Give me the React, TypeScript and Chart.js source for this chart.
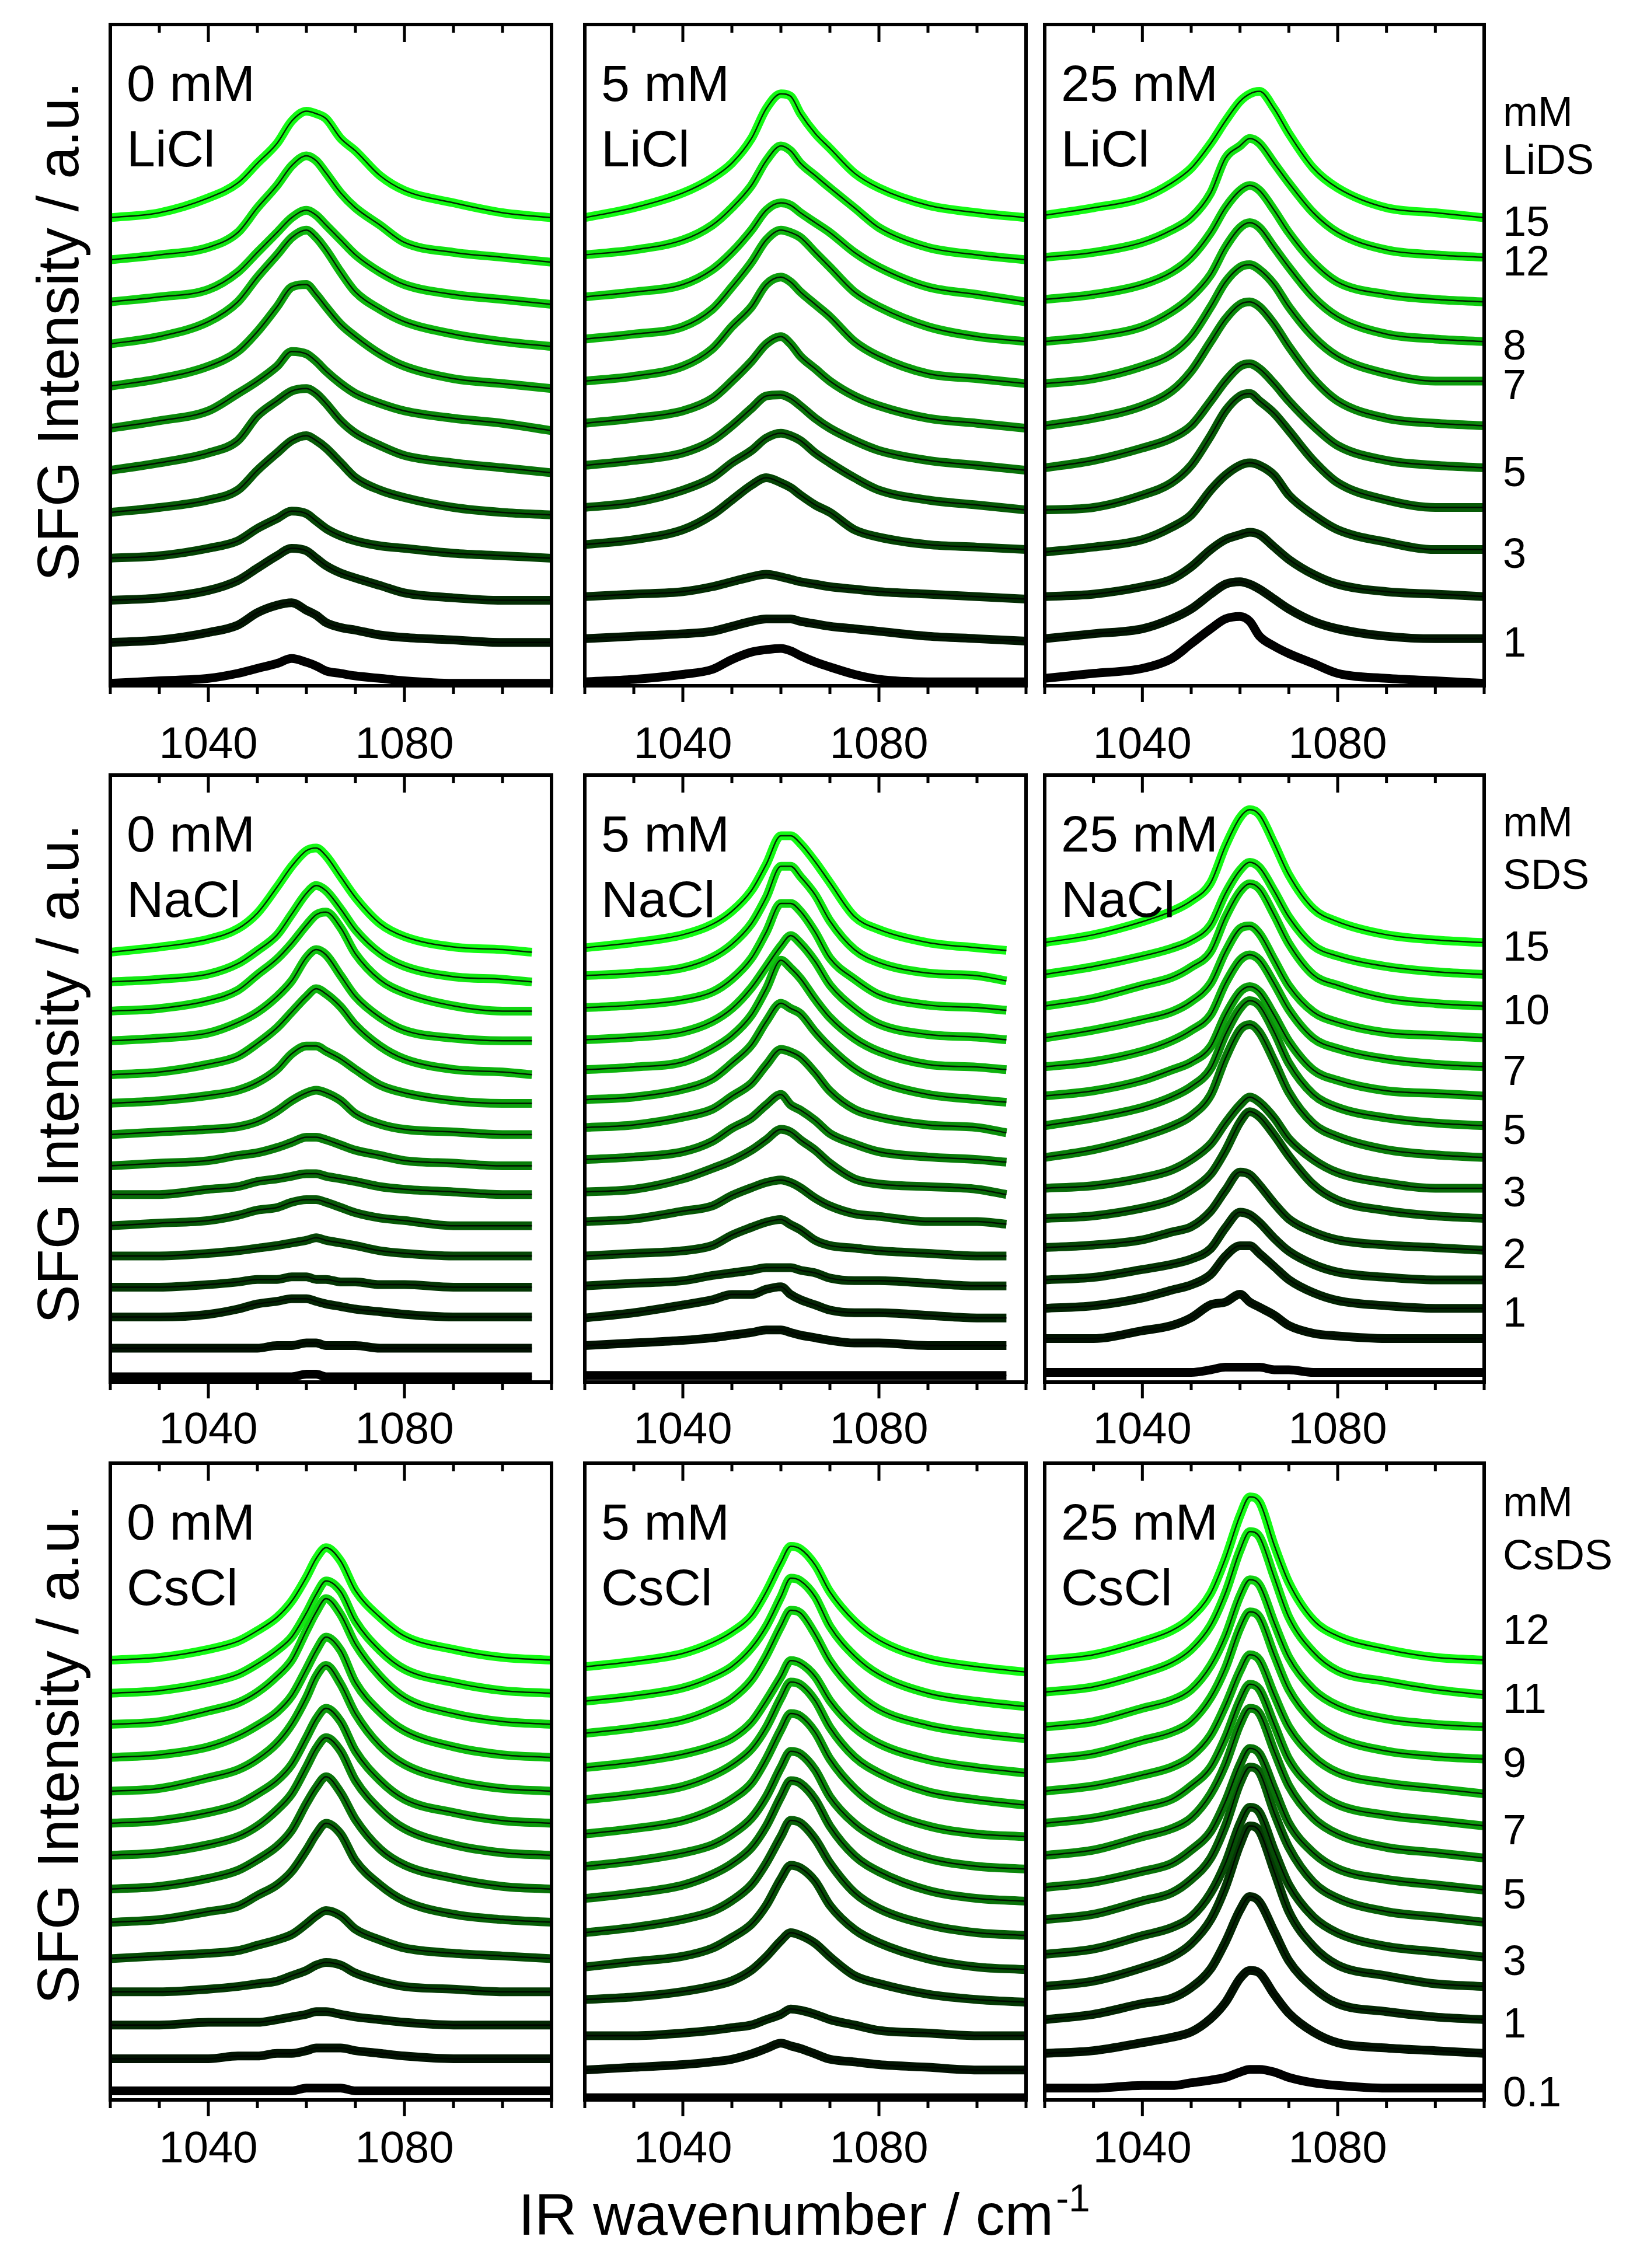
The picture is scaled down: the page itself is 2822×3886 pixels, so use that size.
import React, { useEffect, useRef } from "react";
import { Chart, registerables } from "chart.js";

Chart.register(...registerables);

// ---------------- DATA ----------------
// IR wavenumber grid (cm^-1)
const waveFull = [1020, 1030, 1040, 1046, 1050, 1054, 1057, 1060, 1062, 1064, 1067, 1070, 1075, 1080, 1090, 1100, 1110];
const waveShort = [1020, 1030, 1040, 1046, 1050, 1054, 1057, 1060, 1062, 1064, 1067, 1070, 1075, 1080, 1090, 1100, 1106];

const tickValues = [1020, 1030, 1040, 1050, 1060, 1070, 1080, 1090, 1100, 1110];
const tickLabelValues = [1040, 1080];

const saltConc = ["0 mM", "5 mM", "25 mM"];
const saltNames = ["LiCl", "NaCl", "CsCl"];
const surfactantNames = ["LiDS", "SDS", "CsDS"];

// right-hand surfactant concentration labels (bottom curve -> top curve)
const liDSLabels = ["", "1", "", "3", "", "5", "", "7", "8", "", "12", "15"];
const sdsLabels = ["", "", "1", "", "2", "", "3", "", "5", "", "7", "", "10", "", "15"];
const csDSLabels = ["0.1", "", "1", "", "3", "", "5", "", "7", "", "9", "", "11", "12"];

// y-axis ranges (a.u.)
const liYMax = [267, 267, 267];
const naYMax = [233, 233, 233];
const csYMax = [238, 238, 238];

// ---- Row 1: LiCl / LiDS ----
const liCl0Offsets = [1, 17.5, 34.5, 51.5, 70, 87, 104, 121, 138, 155, 172, 189];
const liCl0Signal = [
  [0, 1, 2, 4, 6, 8, 10, 8.5, 7, 5, 4, 3, 2, 1, 0, 0, 0],
  [0, 1, 4, 7, 12, 15, 16, 13, 11, 8, 6, 5, 3, 2, 1, 0, 0],
  [0, 1, 4, 8, 13, 18, 21, 20, 17, 14, 11, 9, 6, 3, 1, 0, 0],
  [0, 1, 4, 7, 12, 16, 19, 18, 15, 12, 9, 7, 5, 4, 2, 1, 0],
  [0, 2, 5, 9, 17, 24, 29, 31, 29, 26, 20, 14, 9, 6, 2, 0, -1],
  [0, 3, 7, 12, 22, 28, 32, 33, 31, 27, 20, 15, 10, 6, 3, 1, -1],
  [0, 3, 7, 14, 19, 25, 31, 30, 27, 23, 18, 14, 10, 7, 4, 2, -1],
  [0, 3, 8, 14, 22, 32, 40, 41, 37, 32, 25, 20, 13, 8, 3, 1, -1],
  [0, 3, 9, 17, 27, 36, 43, 46, 43, 38, 29, 21, 14, 9, 4, 1, -1],
  [0, 2, 5, 12, 20, 28, 34, 37, 35, 31, 25, 19, 12, 7, 3, 1, -1],
  [0, 2, 5, 11, 21, 30, 38, 42, 40, 35, 27, 21, 14, 7, 3, 1, -1],
  [0, 2, 8, 14, 22, 30, 39, 43, 42, 40, 32, 27, 17, 11, 6, 2, 0],
];

const liCl5Offsets = [1.6, 19, 36, 57, 72, 89, 106, 123, 140, 157, 174, 189];
const liCl5Signal = [
  [0, 1, 3, 5, 9, 12, 13, 13.5, 12.5, 10.5, 8, 6, 3, 1, 0, 0, 0],
  [0, 1, 2, 3, 5, 7, 8, 8, 8, 7, 6, 5, 4, 3, 1, 0, -1],
  [0, 1, 2, 4, 6, 8, 9, 8, 7, 6, 5, 4, 3, 2, 1, 0, -1],
  [0, 2, 6, 12, 18, 24, 27, 25, 23, 20, 16, 13, 6, 3, 0, -1, -2],
  [0, 2, 7, 12, 18, 23, 28, 30, 29, 27, 22, 18, 12, 7, 3, 1, -1],
  [0, 2, 5, 10, 16, 23, 28, 28.5, 27, 24, 19, 15, 10, 6, 2, 0, -2],
  [0, 2, 5, 10, 17, 25, 32, 35, 32, 27, 22, 17, 11, 7, 2, 0, -2],
  [0, 2, 6, 13, 22, 30, 39, 42, 40, 36, 31, 26, 16, 10, 3, 1, -1],
  [0, 2, 5, 12, 21, 31, 40, 44, 43, 41, 35, 29, 19, 13, 5, 1, -1],
  [0, 2, 5, 11, 18, 27, 35, 38, 37, 34, 30, 26, 18, 12, 4, 1, -2],
  [0, 2, 6, 12, 19, 28, 38, 44, 42, 37, 32, 27, 19, 11, 3, 0, -2],
  [0, 4, 10, 16, 22, 32, 44, 50, 49, 42, 34, 28, 18, 12, 5, 2, 0],
];

const liCl25Offsets = [3, 19, 36, 54, 71, 88, 105, 122, 139, 156, 173, 190];
const liCl25Signal = [
  [0, 2, 4, 8, 14, 20, 24, 25, 23, 17, 13, 10, 6, 2, 0, -1, -2],
  [0, 2, 4, 8, 12, 18, 22, 23, 22, 20, 16, 12, 7, 4, 1, 0, 0],
  [0, 1, 4, 7, 12, 19, 23, 25, 26, 25, 20, 15, 9, 5, 2, 1, 0],
  [0, 2, 5, 10, 15, 25, 31, 35, 36, 35, 31, 23, 15, 9, 4, 1, 1],
  [0, 1, 6, 11, 18, 30, 40, 46, 47, 44, 39, 32, 20, 11, 4, 1, 1],
  [0, 3, 8, 12, 17, 27, 35, 41, 42, 40, 34, 27, 17, 9, 3, 1, 0],
  [0, 3, 8, 14, 22, 34, 43, 49, 50, 48, 41, 32, 19, 10, 3, 1, 0],
  [0, 2, 7, 12, 19, 31, 41, 47, 48, 46, 40, 31, 19, 11, 4, 1, 1],
  [0, 2, 6, 12, 18, 27, 38, 46, 48, 46, 38, 30, 18, 10, 3, 1, 0],
  [0, 2, 6, 11, 17, 27, 37, 44, 46, 44, 36, 27, 15, 7, 2, 0, -1],
  [0, 2, 6, 11, 16, 26, 40, 45, 48, 46, 38, 30, 18, 10, 3, 1, 0],
  [0, 3, 7, 13, 19, 29, 38, 46, 49, 50, 43, 33, 19, 11, 3, 1, -1],
];

// ---- Row 2: NaCl / SDS ----
const naCl0Offsets = [2, 13, 25, 36.4, 48.4, 60, 72, 83, 95, 107, 118, 131, 142.4, 153.6, 165];
const naCl0Signal = [
  [0, 0, 0, 0, 0, 0, 0, 1, 1, 0, 0, 0, 0, 0, 0, 0, 0],
  [0, 0, 0, 0, 0, 1, 1, 2, 2, 1, 1, 1, 0, 0, 0, 0, 0],
  [0, 0, 1, 3, 5, 6, 7, 7, 6, 5, 4, 3, 2, 1, 0, 0, 0],
  [0, 0, 1, 2, 3, 3, 4, 4, 3, 3, 2, 2, 1, 1, 0, 0, 0],
  [0, 0, 1, 2, 3, 4, 5, 6, 7, 6, 5, 4, 2, 1, 0, 0, 0],
  [0, 1, 2, 4, 6, 7, 9, 10, 10, 9, 7, 5, 3, 2, 0, 0, 0],
  [0, 0, 2, 3, 5, 6, 7, 8, 8, 7, 6, 5, 3, 2, 1, 0, 0],
  [0, 1, 2, 4, 5, 7, 9, 11, 11, 10, 8, 6, 4, 2, 1, 0, 0],
  [0, 1, 2, 3, 5, 9, 13, 16, 17, 16, 13, 8, 4, 2, 1, 0, 0],
  [0, 1, 3, 5, 8, 13, 19, 22, 22, 20, 17, 13, 7, 4, 1, 0, 0],
  [0, 1, 4, 7, 12, 18, 24, 30, 33, 31, 26, 19, 11, 6, 2, 1, 0],
  [0, 1, 3, 7, 11, 17, 23, 32, 35, 33, 25, 17, 9, 4, 1, 0, 0],
  [0, 1, 4, 8, 14, 20, 26, 33, 37, 38, 32, 22, 12, 7, 2, 0, 0],
  [0, 1, 3, 7, 12, 18, 26, 34, 37, 35, 28, 20, 11, 6, 2, 1, 0],
  [0, 2, 5, 9, 15, 25, 33, 39, 40, 37, 29, 21, 11, 6, 2, 1, 0],
];

const naCl5Offsets = [2.5, 14, 24.6, 36.9, 48.4, 61.6, 73, 85.4, 97.7, 108.4, 119.9, 131.4, 143.7, 156, 166.7];
const naCl5Signal = [
  [0, 0, 0, 0, 0, 0, 0, 0, 0, 0, 0, 0, 0, 0, 0, 0, 0],
  [0, 1, 2, 3, 4, 5, 6, 6, 5, 4, 3, 2, 1, 1, 0, 0, 0],
  [0, 2, 5, 7, 9, 9, 11, 12, 9, 7, 5, 3, 2, 2, 1, 0, 0],
  [0, 1, 2, 4, 5, 6, 7, 7, 7, 6, 5, 3, 2, 2, 1, 0, 0],
  [0, 1, 2, 4, 8, 11, 13, 14, 12, 10, 6, 4, 3, 2, 1, 0, 0],
  [0, 1, 4, 6, 10, 13, 15, 16, 15, 13, 9, 6, 3, 2, 0, 0, -1],
  [0, 1, 5, 9, 12, 16, 20, 24, 23, 20, 16, 11, 5, 3, 2, 1, -1],
  [0, 1, 3, 7, 12, 16, 21, 25, 21, 19, 15, 10, 6, 3, 1, 0, -1],
  [0, 1, 4, 7, 12, 17, 24, 30, 29, 27, 21, 14, 7, 4, 1, 0, -2],
  [0, 1, 4, 8, 14, 21, 30, 37, 35, 33, 26, 20, 12, 7, 2, 0, -1],
  [0, 1, 3, 8, 13, 21, 31, 42, 39, 35, 27, 20, 12, 7, 2, 1, 0],
  [0, 1, 3, 7, 12, 20, 28, 36, 40, 37, 30, 21, 12, 6, 2, 1, 0],
  [0, 1, 3, 6, 11, 19, 29, 40, 40, 37, 29, 19, 11, 5, 1, 0, -1],
  [0, 1, 3, 7, 12, 20, 30, 42, 42, 38, 31, 21, 10, 5, 1, 0, -2],
  [0, 2, 5, 9, 14, 22, 32, 43, 43, 40, 33, 25, 12, 7, 2, 0, -1],
];

const naCl25Offsets = [3.7, 16.7, 28.3, 39.2, 51.6, 62.8, 74.4, 86.2, 98.4, 109.8, 121, 132.1, 144.3, 156.5, 168.7];
const naCl25Signal = [
  [0, 0, 0, 0, 0, 1, 2, 2, 2, 2, 1, 1, 0, 0, 0, 0, 0],
  [0, 0, 3, 5, 8, 13, 14, 17, 14, 12, 9, 5, 2, 1, 0, 0, 0],
  [0, 1, 4, 7, 9, 13, 20, 24, 24, 21, 16, 11, 6, 3, 1, 0, 0],
  [0, 1, 4, 6, 8, 12, 20, 26, 25, 22, 16, 11, 6, 3, 1, 0, 0],
  [0, 1, 3, 6, 8, 14, 22, 29, 28, 24, 17, 11, 6, 3, 1, 0, -1],
  [0, 1, 4, 7, 11, 17, 26, 37, 41, 39, 32, 24, 13, 7, 3, 1, 0],
  [0, 1, 4, 7, 11, 17, 25, 32, 35, 33, 27, 19, 11, 6, 2, 0, 0],
  [0, 3, 8, 12, 16, 24, 38, 49, 51, 48, 37, 25, 13, 8, 3, 1, 0],
  [0, 3, 7, 11, 15, 22, 35, 45, 48, 46, 36, 24, 12, 7, 3, 1, 0],
  [0, 2, 6, 10, 13, 19, 31, 40, 42, 40, 31, 21, 10, 6, 2, 1, 0],
  [0, 2, 6, 10, 14, 20, 32, 41, 43, 41, 32, 22, 11, 7, 3, 1, 0],
  [0, 3, 7, 10, 14, 21, 33, 42, 43, 40, 30, 20, 10, 6, 2, 1, 0],
  [0, 3, 8, 11, 15, 21, 34, 44, 47, 45, 35, 24, 12, 8, 3, 1, 0],
  [0, 3, 7, 10, 13, 19, 31, 40, 43, 41, 32, 22, 11, 7, 3, 1, 0],
  [0, 3, 8, 12, 16, 23, 37, 48, 51, 49, 38, 26, 13, 8, 3, 1, 0],
];

// ---- Row 3: CsCl / CsDS ----
const csCl0Offsets = [3.4, 15.4, 28, 40.4, 52.8, 66.4, 78.8, 91.4, 103.4, 115.4, 128, 140.4, 152, 164.4];
const csCl0Signal = [
  [0, 0, 0, 0, 0, 0, 0, 1, 1, 1, 1, 0, 0, 0, 0, 0, 0],
  [0, 0, 0, 1, 1, 2, 2, 3, 4, 4, 4, 3, 2, 1, 0, 0, 0],
  [0, 0, 1, 1, 1, 2, 3, 4, 5, 5, 4, 3, 2, 1, 0, 0, 0],
  [0, 0, 1, 2, 3, 4, 6, 8, 10, 11, 10, 7, 4, 2, 1, 0, 0],
  [0, 1, 2, 3, 5, 7, 9, 13, 16, 18, 16, 11, 7, 4, 2, 1, 0],
  [0, 1, 4, 6, 10, 14, 19, 27, 33, 37, 33, 23, 14, 8, 3, 1, 0],
  [0, 1, 4, 7, 11, 16, 22, 32, 38, 42, 36, 26, 15, 9, 4, 1, 0],
  [0, 1, 4, 7, 11, 17, 23, 33, 40, 44, 39, 28, 17, 10, 4, 1, 0],
  [0, 1, 4, 7, 11, 16, 22, 32, 39, 43, 38, 27, 16, 9, 4, 1, 0],
  [0, 1, 5, 8, 12, 18, 25, 35, 43, 47, 40, 29, 17, 10, 4, 1, 0],
  [0, 1, 4, 8, 12, 17, 23, 33, 40, 45, 40, 28, 17, 10, 4, 1, 0],
  [0, 1, 5, 8, 12, 18, 24, 35, 42, 47, 41, 30, 18, 10, 4, 1, 0],
  [0, 1, 4, 7, 11, 16, 21, 30, 37, 42, 38, 27, 16, 9, 4, 1, 0],
  [0, 1, 4, 7, 11, 16, 22, 31, 38, 42, 37, 26, 16, 9, 4, 1, 0],
];

const csCl5Offsets = [0.8, 11.2, 24, 37.5, 49.7, 62.5, 75.3, 87.3, 99.4, 112.2, 124.2, 137, 149, 161.9];
const csCl5Signal = [
  [0, 0, 0, 0, 0, 0, 0, 0, 0, 0, 0, 0, 0, 0, 0, 0, 0],
  [0, 1, 2, 3, 4, 6, 8, 10, 9, 8, 6, 4, 3, 2, 1, 0, 0],
  [0, 0, 1, 2, 3, 4, 6, 8, 10, 9.5, 8, 6, 4, 2, 1, 0, 0],
  [0, 1, 3, 5, 7, 11, 16, 22, 25, 24, 21, 16, 9, 6, 2, 0, -1],
  [0, 2, 4, 7, 11, 16, 23, 33, 38, 37, 32, 23, 14, 9, 3, 0, -1],
  [0, 2, 5, 8, 12, 18, 26, 36, 42, 41, 35, 26, 15, 9, 3, 0, -1],
  [0, 2, 5, 9, 13, 19, 27, 38, 44, 43, 37, 27, 16, 10, 3, 0, -1],
  [0, 2, 5, 8, 12, 18, 26, 37, 43, 42, 36, 26, 16, 10, 3, 0, -1],
  [0, 2, 5, 9, 13, 19, 28, 39, 45, 44, 38, 28, 17, 10, 3, 0, -1],
  [0, 2, 5, 9, 13, 19, 27, 38, 44, 43, 37, 27, 16, 10, 3, 0, -2],
  [0, 2, 5, 8, 11, 17, 25, 34, 40, 39, 34, 25, 15, 9, 3, 0, -2],
  [0, 2, 5, 9, 13, 20, 29, 40, 46, 45, 37, 27, 16, 9, 3, 0, -2],
  [0, 2, 5, 9, 13, 20, 28, 39, 46, 45, 39, 28, 17, 10, 3, 0, -2],
  [0, 2, 5, 9, 13, 19, 28, 39, 45, 44, 38, 28, 17, 10, 3, 0, -2],
];

const csCl25Offsets = [4.4, 17.4, 30, 42.4, 54.4, 67.4, 79.4, 91.4, 103.4, 115.4, 127.4, 139.4, 152.4, 164.4];
const csCl25Signal = [
  [0, 0, 1, 1, 2, 3, 4, 6, 7, 7, 6, 4, 2, 1, 0, 0, 0],
  [0, 1, 4, 6, 8, 13, 19, 28, 31, 30, 22, 15, 8, 4, 2, 1, 0],
  [0, 2, 6, 8, 12, 19, 29, 41, 46, 44, 33, 22, 12, 6, 3, 1, 0],
  [0, 2, 7, 11, 16, 25, 37, 53, 60, 58, 43, 28, 15, 8, 4, 1, 0],
  [0, 2, 7, 10, 14, 23, 34, 49, 55, 53, 39, 26, 14, 8, 3, 1, -1],
  [0, 2, 7, 10, 15, 23, 35, 51, 57, 55, 40, 27, 14, 8, 3, 1, -1],
  [0, 2, 6, 9, 14, 21, 32, 46, 52, 50, 37, 24, 13, 7, 3, 1, -1],
  [0, 2, 7, 10, 14, 23, 34, 49, 55, 53, 39, 26, 14, 8, 3, 1, -1],
  [0, 2, 6, 9, 14, 21, 32, 46, 52, 50, 37, 24, 13, 7, 3, 1, -1],
  [0, 2, 6, 9, 13, 21, 32, 45, 51, 49, 36, 24, 13, 7, 3, 1, -1],
  [0, 2, 7, 10, 14, 23, 34, 49, 55, 53, 39, 26, 14, 8, 3, 1, 0],
  [0, 2, 7, 10, 14, 23, 34, 49, 55, 53, 39, 26, 14, 8, 3, 1, 0],
  [0, 2, 7, 11, 16, 25, 37, 53, 60, 58, 43, 28, 15, 8, 4, 1, -1],
  [0, 2, 7, 11, 16, 25, 38, 54, 61, 59, 43, 29, 15, 9, 4, 1, 0],
];

// ---------------- LAYOUT / STYLE ----------------
const FONT = '"Liberation Sans", Arial, Helvetica, sans-serif';
const colX: [number, number][] = [[189, 945], [1002, 1758], [1790, 2543]];
const rowY: [number, number][] = [[42, 1175], [1328, 2368], [2507, 3598]];
const tickLabelGap = [97, 78, 80];
const yTitleCenter = [568, 1840, 3006];
const headerGap = [106, 123, 128];
const headerSpacing = [82, 90, 91];
const topLabelShift = [0, 0, -58];

function greenShade(k: number, n: number) {
  const t = n > 1 ? k / (n - 1) : 1;
  return `rgb(${Math.round(20 * t)}, ${Math.round(250 * t)}, ${Math.round(20 * t)})`;
}

type PanelProps = {
  row: number;
  col: number;
  wave: number[];
  offsets: number[];
  signal: number[][];
  yMax: number;
  labels?: string[];
  surfactant?: string;
};

function Panel({ row, col, wave, offsets, signal, yMax, labels, surfactant }: PanelProps) {
  const ref = useRef<HTMLCanvasElement | null>(null);
  const [L, R] = colX[col];
  const [T, B] = rowY[row];
  const padL = 14;
  const padT = 14;
  const padR = labels ? 250 : 14;
  const padB = 150;
  const width = R - L + padL + padR;
  const height = B - T + padT + padB;

  useEffect(() => {
    if (!ref.current) return;
    const n = signal.length;
    const greens: any[] = [];
    const fits: any[] = [];
    for (let k = n - 1; k >= 0; k--) {
      const pts = wave.map((w, i) => ({ x: w, y: offsets[k] + signal[k][i] }));
      greens.push({
        data: pts,
        borderColor: greenShade(k, n),
        borderWidth: 15,
        cubicInterpolationMode: "monotone",
        pointRadius: 0,
        fill: false,
        clip: 0,
        order: 1,
        borderJoinStyle: "round",
        borderCapStyle: "butt",
      });
      fits.push({
        data: pts,
        borderColor: "rgba(0,0,0,0.85)",
        borderWidth: 2.5,
        cubicInterpolationMode: "monotone",
        pointRadius: 0,
        fill: false,
        clip: 0,
        order: 0,
      });
    }

    const framePlugin = {
      id: "frame" + row + col,
      afterDraw(chart: any) {
        const { ctx, chartArea: a } = chart;
        const xs = chart.scales.x;
        const ys = chart.scales.y;
        ctx.save();
        ctx.strokeStyle = "#000";
        ctx.fillStyle = "#000";
        ctx.lineWidth = 6;
        ctx.strokeRect(a.left, a.top, a.right - a.left, a.bottom - a.top);
        ctx.lineWidth = 5;
        ctx.beginPath();
        for (const v of tickValues) {
          const px = xs.getPixelForValue(v);
          const major = tickLabelValues.includes(v);
          ctx.moveTo(px, a.bottom);
          ctx.lineTo(px, a.bottom + (major ? 28 : 14));
          ctx.moveTo(px, a.top);
          ctx.lineTo(px, a.top + (major ? 30 : 14));
        }
        ctx.stroke();
        // tick labels
        ctx.font = `76px ${FONT}`;
        ctx.textAlign = "center";
        ctx.textBaseline = "alphabetic";
        for (const v of tickLabelValues) {
          ctx.fillText(String(v), xs.getPixelForValue(v), a.bottom + tickLabelGap[row] + 27);
        }
        // panel annotation
        ctx.font = `88px ${FONT}`;
        ctx.textAlign = "left";
        ctx.fillText(saltConc[col], a.left + 28, a.top + 131);
        ctx.fillText(saltNames[row], a.left + 28, a.top + 243);
        // right-hand labels
        if (labels) {
          ctx.font = `72px ${FONT}`;
          const lx = a.right + 32;
          let topY: number | null = null;
          for (let k = n - 1; k >= 0; k--) {
            if (!labels[k]) continue;
            const last = signal[k][signal[k].length - 1];
            let cy = ys.getPixelForValue(offsets[k] + last) + 5;
            if (topY === null) {
              cy += topLabelShift[row];
              topY = cy;
            }
            ctx.fillText(labels[k], lx, cy + 26);
          }
          if (topY !== null) {
            const l2 = topY - headerGap[row];
            const l1 = l2 - headerSpacing[row];
            ctx.fillText("mM", lx, l1 + 26);
            ctx.fillText(surfactant || "", lx, l2 + 26);
          }
        }
        ctx.restore();
      },
    };

    const chart = new Chart(ref.current, {
      type: "line",
      data: { datasets: [...fits, ...greens] },
      options: {
        responsive: false,
        maintainAspectRatio: false,
        animation: false,
        devicePixelRatio: 1,
        events: [],
        layout: { padding: { left: padL, right: padR, top: padT, bottom: padB } },
        scales: {
          x: { type: "linear", min: 1020, max: 1110, display: false },
          y: { type: "linear", min: 0, max: yMax, display: false },
        },
        plugins: { legend: { display: false }, tooltip: { enabled: false } },
        elements: { point: { radius: 0 } },
      } as any,
      plugins: [framePlugin],
    });
    return () => chart.destroy();
  }, []);

  return (
    <canvas
      ref={ref}
      width={width}
      height={height}
      style={{ position: "absolute", left: L - padL, top: T - padT, width, height }}
    />
  );
}

export default function App() {
  const panels: PanelProps[] = [
    { row: 0, col: 0, wave: waveFull, offsets: liCl0Offsets, signal: liCl0Signal, yMax: liYMax[0] },
    { row: 0, col: 1, wave: waveFull, offsets: liCl5Offsets, signal: liCl5Signal, yMax: liYMax[1] },
    { row: 0, col: 2, wave: waveFull, offsets: liCl25Offsets, signal: liCl25Signal, yMax: liYMax[2], labels: liDSLabels, surfactant: surfactantNames[0] },
    { row: 1, col: 0, wave: waveShort, offsets: naCl0Offsets, signal: naCl0Signal, yMax: naYMax[0] },
    { row: 1, col: 1, wave: waveShort, offsets: naCl5Offsets, signal: naCl5Signal, yMax: naYMax[1] },
    { row: 1, col: 2, wave: waveFull, offsets: naCl25Offsets, signal: naCl25Signal, yMax: naYMax[2], labels: sdsLabels, surfactant: surfactantNames[1] },
    { row: 2, col: 0, wave: waveFull, offsets: csCl0Offsets, signal: csCl0Signal, yMax: csYMax[0] },
    { row: 2, col: 1, wave: waveFull, offsets: csCl5Offsets, signal: csCl5Signal, yMax: csYMax[1] },
    { row: 2, col: 2, wave: waveFull, offsets: csCl25Offsets, signal: csCl25Signal, yMax: csYMax[2], labels: csDSLabels, surfactant: surfactantNames[2] },
  ];

  return (
    <div
      style={{
        position: "absolute",
        left: 0,
        top: 0,
        width: 2822,
        height: 3886,
        overflow: "hidden",
        background: "#fff",
        fontFamily: FONT,
        color: "#000",
      }}
    >
      {panels.map((p) => (
        <Panel key={`${p.row}-${p.col}`} {...p} />
      ))}
      {yTitleCenter.map((cy, i) => (
        <div
          key={"yt" + i}
          style={{
            position: "absolute",
            left: 99 - 600,
            top: cy - 50,
            width: 1200,
            height: 100,
            lineHeight: "100px",
            fontSize: 100,
            textAlign: "center",
            whiteSpace: "nowrap",
            transform: "rotate(-90deg)",
            transformOrigin: "50% 50%",
          }}
        >
          SFG Intensity / a.u.
        </div>
      ))}
      <div
        style={{
          position: "absolute",
          left: 1378 - 1000,
          top: 3744,
          width: 2000,
          height: 100,
          lineHeight: "100px",
          fontSize: 100,
          textAlign: "center",
          whiteSpace: "nowrap",
        }}
      >
        IR wavenumber / cm
        <span style={{ fontSize: 66, position: "relative", top: -40, marginLeft: 4 }}>-1</span>
      </div>
    </div>
  );
}
